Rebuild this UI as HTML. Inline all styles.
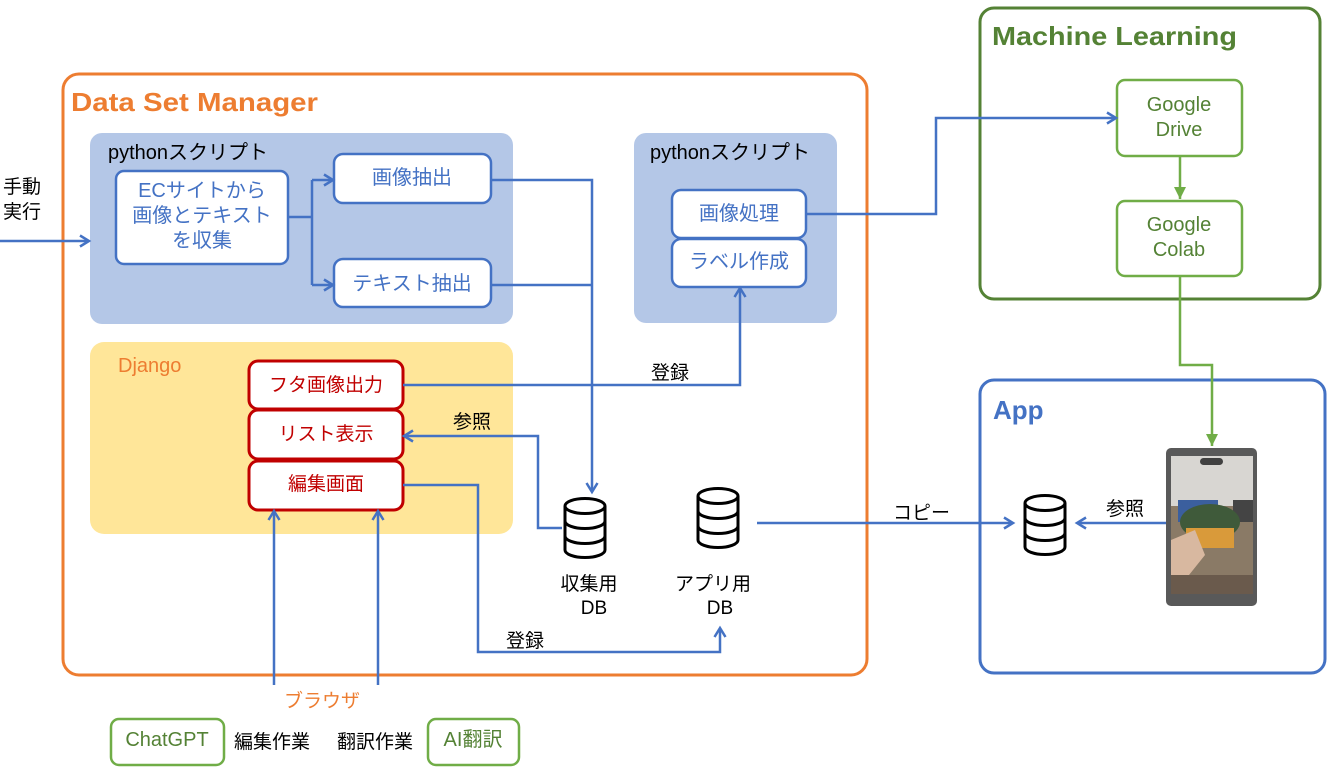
<!DOCTYPE html>
<html><head><meta charset="utf-8"><style>
body{margin:0;background:#fff;}
svg text{font-family:"Liberation Sans","Noto Sans CJK JP",sans-serif;}
</style></head><body>
<svg width="1327" height="769" viewBox="0 0 1327 769" xmlns="http://www.w3.org/2000/svg">
<defs>
<marker id="ab" markerWidth="14" markerHeight="14" refX="11" refY="7" orient="auto" markerUnits="userSpaceOnUse"><path d="M2,1.5 L11,7 L2,12.5" fill="none" stroke="#4472C4" stroke-width="2.5"/></marker>
<marker id="ag" markerWidth="14" markerHeight="14" refX="12" refY="7" orient="auto" markerUnits="userSpaceOnUse"><path d="M0,1 L12,7 L0,13 z" fill="#70AD47"/></marker>
<g id="db">
<path d="M-20,-21 L-20,23 A20,7.5 0 0 0 20,23 L20,-21" fill="#fff" stroke="#000" stroke-width="3"/>
<ellipse cx="0" cy="-21" rx="20" ry="7.5" fill="#fff" stroke="#000" stroke-width="3"/>
<path d="M-20,-6 A20,7.5 0 0 0 20,-6 M-20,9 A20,7.5 0 0 0 20,9" fill="none" stroke="#000" stroke-width="3"/>
</g>
</defs>
<rect x="63" y="74" width="804" height="601" rx="16" fill="#fff" stroke="#ED7D31" stroke-width="3"/>
<text x="71" y="111" font-size="26" font-weight="bold" fill="#ED7D31" textLength="247" lengthAdjust="spacingAndGlyphs">Data Set Manager</text>
<rect x="90" y="133" width="423" height="191" rx="12" fill="#B4C7E7"/>
<rect x="634" y="133" width="203" height="190" rx="12" fill="#B4C7E7"/>
<rect x="90" y="342" width="423" height="192" rx="14" fill="#FFE699"/>
<text x="108" y="159" font-size="20" fill="#000">pythonスクリプト</text>
<text x="650" y="159" font-size="20" fill="#000">pythonスクリプト</text>
<text x="118" y="372" font-size="20" fill="#ED7D31">Django</text>
<g fill="#fff" stroke="#4472C4" stroke-width="2.5">
<rect x="116" y="171" width="172" height="93" rx="8"/>
<rect x="334" y="154" width="157" height="49" rx="9"/>
<rect x="334" y="259" width="157" height="48" rx="9"/>
<rect x="672" y="190" width="134" height="48" rx="9"/>
<rect x="672" y="239" width="134" height="48" rx="9"/>
</g>
<g font-size="20" fill="#4472C4" text-anchor="middle">
<text x="202" y="197">ECサイトから</text>
<text x="202" y="222">画像とテキスト</text>
<text x="202" y="247">を収集</text>
<text x="412" y="184">画像抽出</text>
<text x="412" y="290">テキスト抽出</text>
<text x="739" y="220">画像処理</text>
<text x="739" y="268">ラベル作成</text>
</g>
<g fill="#fff" stroke="#C00000" stroke-width="3">
<rect x="249" y="361" width="154" height="48" rx="9"/>
<rect x="249" y="410" width="154" height="49" rx="9"/>
<rect x="249" y="461" width="154" height="49" rx="9"/>
</g>
<g font-size="19" fill="#C00000" text-anchor="middle">
<text x="326" y="391">フタ画像出力</text>
<text x="326" y="440">リスト表示</text>
<text x="326" y="490">編集画面</text>
</g>
<rect x="980" y="8" width="340" height="291" rx="14" fill="#fff" stroke="#548235" stroke-width="3"/>
<text x="992" y="45" font-size="26" font-weight="bold" fill="#548235" textLength="245" lengthAdjust="spacingAndGlyphs">Machine Learning</text>
<g fill="#fff" stroke="#70AD47" stroke-width="2.5">
<rect x="1117" y="80" width="125" height="76" rx="8"/>
<rect x="1117" y="201" width="125" height="75" rx="8"/>
</g>
<g font-size="20" fill="#548235" text-anchor="middle">
<text x="1179" y="111">Google</text><text x="1179" y="136">Drive</text>
<text x="1179" y="231">Google</text><text x="1179" y="256">Colab</text>
</g>
<rect x="980" y="380" width="345" height="293" rx="14" fill="#fff" stroke="#4472C4" stroke-width="3"/>
<text x="993" y="419" font-size="26" font-weight="bold" fill="#4472C4">App</text>
<rect x="1166" y="448" width="91" height="158" rx="5" fill="#595959"/>
<rect x="1171" y="456" width="82" height="138" fill="#8a7a66"/>
<rect x="1171" y="456" width="82" height="50" fill="#d8d6d2"/>
<rect x="1178" y="500" width="40" height="22" fill="#3b5f9e"/>
<rect x="1233" y="500" width="20" height="22" fill="#444"/>
<ellipse cx="1210" cy="522" rx="30" ry="18" fill="#3f5a3a"/>
<rect x="1186" y="528" width="48" height="20" fill="#d99a3a"/>
<path d="M1171,540 L1195,530 L1205,555 L1185,580 L1171,585 z" fill="#d8b8a0"/>
<rect x="1171" y="575" width="82" height="19" fill="#6a5a4c"/>
<rect x="1200" y="458" width="23" height="7" rx="3.5" fill="#404040"/>
<use href="#db" x="585" y="527"/>
<use href="#db" x="718" y="517"/>
<use href="#db" x="1045" y="524"/>
<g font-size="19" fill="#000" text-anchor="middle">
<text x="589" y="590">収集用</text><text x="594" y="614">DB</text>
<text x="713" y="590">アプリ用</text><text x="720" y="614">DB</text>
</g>
<g fill="#fff" stroke="#70AD47" stroke-width="2.5">
<rect x="111" y="719" width="113" height="46" rx="8"/>
<rect x="428" y="719" width="91" height="46" rx="8"/>
</g>
<text x="167" y="746" font-size="20" fill="#548235" text-anchor="middle">ChatGPT</text>
<text x="473" y="746" font-size="20" fill="#548235" text-anchor="middle">AI翻訳</text>
<g font-size="19" fill="#000">
<text x="234" y="748">編集作業</text>
<text x="337" y="748">翻訳作業</text>
<text x="3" y="193">手動</text><text x="3" y="218">実行</text>
<text x="651" y="379">登録</text>
<text x="453" y="428">参照</text>
<text x="506" y="647">登録</text>
<text x="893" y="519">コピー</text>
<text x="1106" y="515">参照</text>
</g>
<text x="284" y="707" font-size="19" fill="#ED7D31">ブラウザ</text>
<g fill="none" stroke="#4472C4" stroke-width="2.5">
<path d="M0,241 L89,241" marker-end="url(#ab)"/>
<path d="M288,217 L312,217 M312,180 L312,285"/>
<path d="M312,180 L333,180" marker-end="url(#ab)"/>
<path d="M312,285 L333,285" marker-end="url(#ab)"/>
<path d="M491,180 L592,180 L592,492" marker-end="url(#ab)"/>
<path d="M491,285 L592,285"/>
<path d="M403,385 L740,385 L740,288" marker-end="url(#ab)"/>
<path d="M562,528 L538,528 L538,436 L404,436" marker-end="url(#ab)"/>
<path d="M403,485 L478,485 L478,652 L720,652 L720,628" marker-end="url(#ab)"/>
<path d="M806,214 L936,214 L936,118 L1116,118" marker-end="url(#ab)"/>
<path d="M757,523 L1013,523" marker-end="url(#ab)"/>
<path d="M1166,523 L1077,523" marker-end="url(#ab)"/>
<path d="M274,685 L274,511" marker-end="url(#ab)"/>
<path d="M378,685 L378,511" marker-end="url(#ab)"/>
</g>
<path d="M1180,156 L1180,199" fill="none" stroke="#70AD47" stroke-width="2.5" marker-end="url(#ag)"/>
<path d="M1180,276 L1180,365 L1212,365 L1212,446" fill="none" stroke="#70AD47" stroke-width="2.5" marker-end="url(#ag)"/>
</svg>
</body></html>
